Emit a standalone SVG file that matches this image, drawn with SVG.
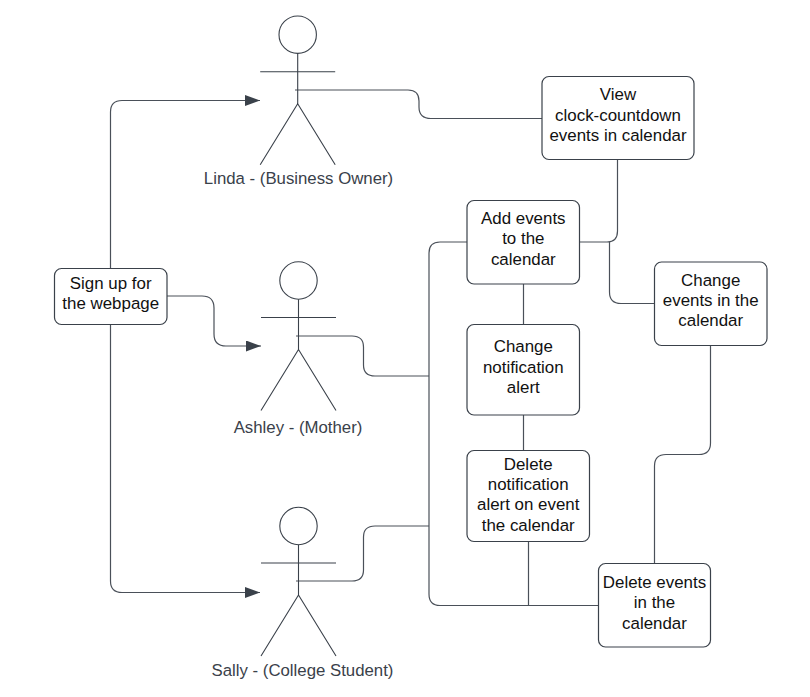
<svg xmlns="http://www.w3.org/2000/svg" width="810" height="697" viewBox="0 0 810 697">
<style>
.c{fill:none;stroke:#4a5059;stroke-width:1.2}
.a{marker-end:url(#arrow)}
.b{fill:#fff;stroke:#3a414a;stroke-width:1.2}
.f{fill:none;stroke:#3a414a;stroke-width:1.1}
.t{font-family:"Liberation Sans",Arial,sans-serif;font-size:16.900px;fill:#111;text-anchor:middle}
.l{font-family:"Liberation Sans",Arial,sans-serif;font-size:16.800px;fill:#3a414a;text-anchor:middle}
</style>
<defs>
<marker id="arrow" markerUnits="userSpaceOnUse" markerWidth="16" markerHeight="12" refX="15" refY="5.500" orient="auto"><path d="M0 0L15 5.500L0 11Z" fill="#3a414a"/></marker>
<g id="fig"><circle cx="0" cy="0" r="18.700" class="f"/><path d="M0 18.700V69M-37.500 37H37.500M0 69L-37.500 130M0 69L37.500 130" class="f"/></g>
</defs>
<rect width="810" height="697" fill="#fff"/>
<g id="connectors">
<path class="c a" d="M110.500 268V112Q110.500 100.500 122 100.500H260"/>
<path class="c a" d="M167 296H202Q214 296 214 308V334Q214 346 226 346H261"/>
<path class="c a" d="M110.500 325V581Q110.500 592.500 122 592.500H260"/>
<path class="c" d="M295 90H408Q419 90 419 101V107Q419 118.500 431 118.500H542"/>
<path class="c" d="M296 336H352Q363.500 336 363.500 347V365Q363.500 376 375 376H429"/>
<path class="c" d="M296 581H352Q363.500 581 363.500 570V537Q363.500 526 375 526H429"/>
<path class="c" d="M617.500 160V231Q617.500 242 607 242H579"/>
<path class="c" d="M467 242H440Q429 242 429 253V594Q429 605.500 440 605.500H598"/>
<path class="c" d="M609.500 242V292Q609.500 303.500 621 303.500H654.500"/>
<path class="c" d="M523.500 284V325M523.500 415V450M528.500 542V605.500"/>
<path class="c" d="M710.500 346V443Q710.500 454.500 699 454.500H666Q654.500 454.500 654.500 466V564"/>
</g>
<g id="linda"><use href="#fig" x="297.700" y="34.700"/><text class="l" x="298.500" y="183.500">Linda - (Business Owner)</text></g>
<g id="ashley"><use href="#fig" x="298.500" y="280.500"/><text class="l" x="298" y="433">Ashley - (Mother)</text></g>
<g id="sally"><use href="#fig" x="298.500" y="526"/><text class="l" x="302.500" y="676">Sally - (College Student)</text></g>
<g id="signup"><rect class="b" x="54.500" y="268.500" width="112.500" height="56" rx="7"/><text class="t" x="110.700" y="289">Sign up for</text><text class="t" x="110.700" y="309">the webpage</text></g>
<g id="view"><rect class="b" x="542" y="76.500" width="152" height="83" rx="7"/><text class="t" x="618" y="100">View</text><text class="t" x="618" y="120.500">clock-countdown</text><text class="t" x="618" y="140.500">events in calendar</text></g>
<g id="add"><rect class="b" x="467" y="200.500" width="112.500" height="83.500" rx="7"/><text class="t" x="523.300" y="224">Add events</text><text class="t" x="523.300" y="244">to the</text><text class="t" x="523.300" y="264.500">calendar</text></g>
<g id="change-events"><rect class="b" x="654.500" y="262" width="112.500" height="83.500" rx="7"/><text class="t" x="710.700" y="286">Change</text><text class="t" x="710.700" y="306">events in the</text><text class="t" x="710.700" y="326">calendar</text></g>
<g id="change-alert"><rect class="b" x="467" y="324.500" width="112.500" height="90.500" rx="7"/><text class="t" x="523.300" y="352">Change</text><text class="t" x="523.300" y="373">notification</text><text class="t" x="523.300" y="393">alert</text></g>
<g id="delete-alert"><rect class="b" x="467" y="450.500" width="122.500" height="91" rx="7"/><text class="t" x="528.200" y="469.500">Delete</text><text class="t" x="528.200" y="490">notification</text><text class="t" x="528.200" y="510">alert on event</text><text class="t" x="528.200" y="530.500">the calendar</text></g>
<g id="delete-events"><rect class="b" x="598.500" y="563.500" width="112" height="83.500" rx="7"/><text class="t" x="654.500" y="588">Delete events</text><text class="t" x="654.500" y="608">in the</text><text class="t" x="654.500" y="628.500">calendar</text></g>
</svg>
